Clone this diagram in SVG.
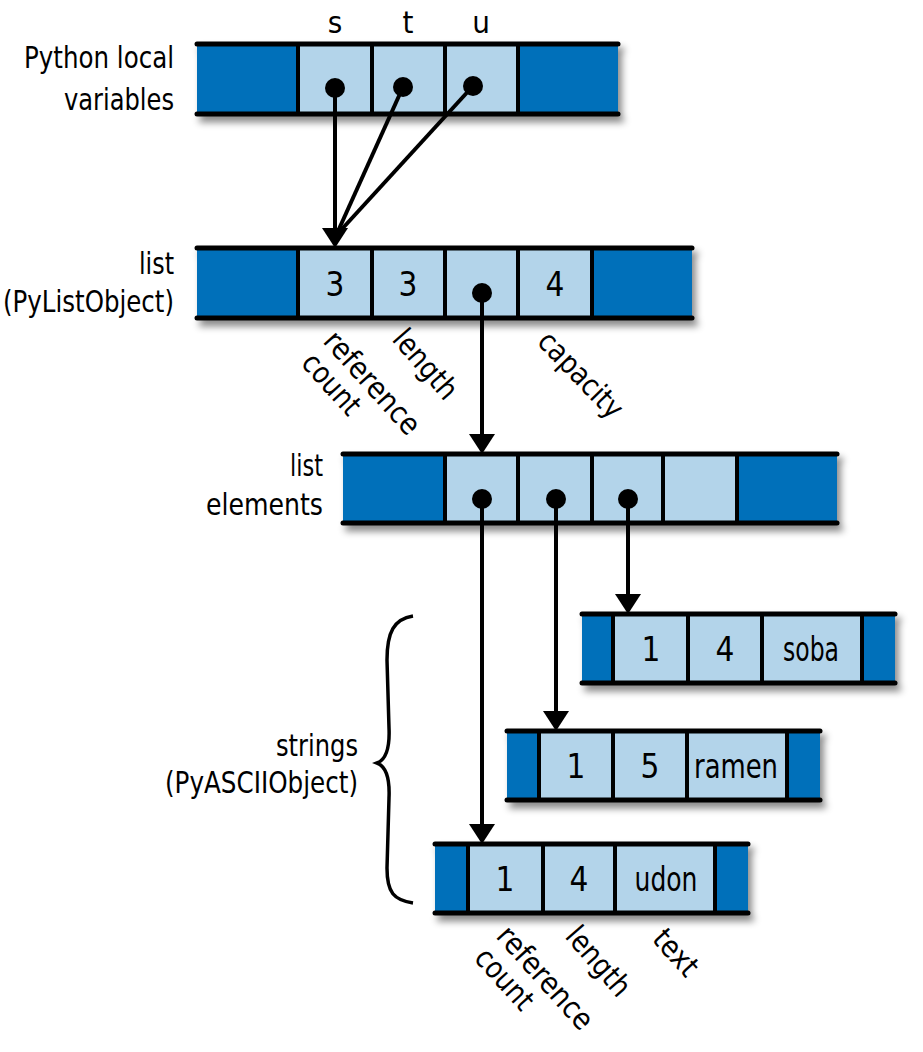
<svg xmlns="http://www.w3.org/2000/svg" width="923" height="1052" viewBox="0 0 923 1052">
<style>
text{font-family:"DejaVu Sans Condensed","Liberation Sans Narrow","Liberation Sans",sans-serif;fill:#000}
.lbl{font-size:31px}
.r{text-anchor:end}
.c{text-anchor:middle;font-size:33px}
.rot{font-size:30px}
.dk{fill:#0070BA}
.lt{fill:#B3D4EA}
.hl{stroke:#000;stroke-width:5;stroke-linecap:round}
.dv{stroke:#000;stroke-width:4}
.con{stroke:#000;stroke-width:4;fill:none}
.brace{stroke:#000;stroke-width:3.5;fill:none}
</style>
<defs>
<filter id="sh" x="-5%" y="-20%" width="115%" height="160%">
<feDropShadow dx="4" dy="6" stdDeviation="3.5" flood-color="#000" flood-opacity="0.45"/>
</filter>
<marker id="ah" viewBox="0 0 20 26" refX="14" refY="13" markerWidth="20" markerHeight="26" markerUnits="userSpaceOnUse" orient="auto">
<path d="M0,0 L20,13 L0,26 z" fill="#000"/>
</marker>
</defs>

<g id="labels">
<text class="lbl r" x="174" y="68" textLength="150" lengthAdjust="spacingAndGlyphs">Python local</text>
<text class="lbl r" x="174" y="110" textLength="110" lengthAdjust="spacingAndGlyphs">variables</text>
<text class="lbl r" x="174" y="274" textLength="35" lengthAdjust="spacingAndGlyphs">list</text>
<text class="lbl r" x="174" y="312" textLength="171" lengthAdjust="spacingAndGlyphs">(PyListObject)</text>
<text class="lbl r" x="323" y="476" textLength="33" lengthAdjust="spacingAndGlyphs">list</text>
<text class="lbl r" x="323" y="515" textLength="117" lengthAdjust="spacingAndGlyphs">elements</text>
<text class="lbl r" x="358" y="756" textLength="82" lengthAdjust="spacingAndGlyphs">strings</text>
<text class="lbl r" x="358" y="793" textLength="193" lengthAdjust="spacingAndGlyphs">(PyASCIIObject)</text>
</g>

<g id="vars">
<g filter="url(#sh)">
<rect class="dk" x="197" y="44" width="421" height="70"/>
<rect class="lt" x="298" y="44" width="220" height="70"/>
<line class="hl" x1="197" y1="44" x2="618" y2="44"/>
<line class="hl" x1="197" y1="114" x2="618" y2="114"/>
</g>
<line class="dv" x1="298" y1="44" x2="298" y2="114"/>
<line class="dv" x1="372" y1="44" x2="372" y2="114"/>
<line class="dv" x1="445" y1="44" x2="445" y2="114"/>
<line class="dv" x1="518" y1="44" x2="518" y2="114"/>
<text class="lbl" x="335" y="33" text-anchor="middle">s</text>
<text class="lbl" x="408" y="33" text-anchor="middle">t</text>
<text class="lbl" x="481" y="33" text-anchor="middle">u</text>
</g>

<g id="list">
<g filter="url(#sh)">
<rect class="dk" x="197" y="248" width="495" height="70"/>
<rect class="lt" x="298" y="248" width="294" height="70"/>
<line class="hl" x1="197" y1="248" x2="692" y2="248"/>
<line class="hl" x1="197" y1="318" x2="692" y2="318"/>
</g>
<line class="dv" x1="298" y1="248" x2="298" y2="318"/>
<line class="dv" x1="372" y1="248" x2="372" y2="318"/>
<line class="dv" x1="445" y1="248" x2="445" y2="318"/>
<line class="dv" x1="518" y1="248" x2="518" y2="318"/>
<line class="dv" x1="592" y1="248" x2="592" y2="318"/>
<text class="c" x="335" y="296">3</text>
<text class="c" x="408" y="296">3</text>
<text class="c" x="555" y="296">4</text>
<text class="rot" transform="translate(322,342) rotate(48)" textLength="128" lengthAdjust="spacingAndGlyphs">reference</text>
<text class="rot" transform="translate(300,364) rotate(48)" textLength="72" lengthAdjust="spacingAndGlyphs">count</text>
<text class="rot" transform="translate(391,340) rotate(49)" textLength="82" lengthAdjust="spacingAndGlyphs">length</text>
<text class="rot" transform="translate(536,343) rotate(46)" textLength="108" lengthAdjust="spacingAndGlyphs">capacity</text>
</g>

<g id="elements">
<g filter="url(#sh)">
<rect class="dk" x="343" y="454" width="494" height="69"/>
<rect class="lt" x="445" y="454" width="292" height="69"/>
<line class="hl" x1="343" y1="454" x2="837" y2="454"/>
<line class="hl" x1="343" y1="523" x2="837" y2="523"/>
</g>
<line class="dv" x1="445" y1="454" x2="445" y2="523"/>
<line class="dv" x1="518" y1="454" x2="518" y2="523"/>
<line class="dv" x1="592" y1="454" x2="592" y2="523"/>
<line class="dv" x1="663" y1="454" x2="663" y2="523"/>
<line class="dv" x1="737" y1="454" x2="737" y2="523"/>
</g>

<g id="soba">
<g filter="url(#sh)">
<rect class="dk" x="582" y="614" width="313" height="69"/>
<rect class="lt" x="613" y="614" width="249" height="69"/>
<line class="hl" x1="582" y1="614" x2="895" y2="614"/>
<line class="hl" x1="582" y1="683" x2="895" y2="683"/>
</g>
<line class="dv" x1="613" y1="614" x2="613" y2="683"/>
<line class="dv" x1="688" y1="614" x2="688" y2="683"/>
<line class="dv" x1="762" y1="614" x2="762" y2="683"/>
<line class="dv" x1="862" y1="614" x2="862" y2="683"/>
<text class="c" x="651" y="661">1</text>
<text class="c" x="725" y="661">4</text>
<text class="c" x="811" y="661" textLength="56" lengthAdjust="spacingAndGlyphs">soba</text>
</g>

<g id="ramen">
<g filter="url(#sh)">
<rect class="dk" x="507" y="731" width="313" height="69"/>
<rect class="lt" x="539" y="731" width="248" height="69"/>
<line class="hl" x1="507" y1="731" x2="820" y2="731"/>
<line class="hl" x1="507" y1="800" x2="820" y2="800"/>
</g>
<line class="dv" x1="539" y1="731" x2="539" y2="800"/>
<line class="dv" x1="613" y1="731" x2="613" y2="800"/>
<line class="dv" x1="687" y1="731" x2="687" y2="800"/>
<line class="dv" x1="787" y1="731" x2="787" y2="800"/>
<text class="c" x="576" y="778">1</text>
<text class="c" x="650" y="778">5</text>
<text class="c" x="736" y="778" textLength="84" lengthAdjust="spacingAndGlyphs">ramen</text>
</g>

<g id="udon">
<g filter="url(#sh)">
<rect class="dk" x="435" y="844" width="313" height="69"/>
<rect class="lt" x="468" y="844" width="247" height="69"/>
<line class="hl" x1="435" y1="844" x2="748" y2="844"/>
<line class="hl" x1="435" y1="913" x2="748" y2="913"/>
</g>
<line class="dv" x1="468" y1="844" x2="468" y2="913"/>
<line class="dv" x1="543" y1="844" x2="543" y2="913"/>
<line class="dv" x1="615" y1="844" x2="615" y2="913"/>
<line class="dv" x1="715" y1="844" x2="715" y2="913"/>
<text class="c" x="505" y="891">1</text>
<text class="c" x="579" y="891">4</text>
<text class="c" x="666" y="891" textLength="63" lengthAdjust="spacingAndGlyphs">udon</text>
<text class="rot" transform="translate(495,937) rotate(48)" textLength="128" lengthAdjust="spacingAndGlyphs">reference</text>
<text class="rot" transform="translate(473,959) rotate(48)" textLength="72" lengthAdjust="spacingAndGlyphs">count</text>
<text class="rot" transform="translate(564,937) rotate(49)" textLength="82" lengthAdjust="spacingAndGlyphs">length</text>
<text class="rot" transform="translate(651,940) rotate(48)" textLength="52" lengthAdjust="spacingAndGlyphs">text</text>
</g>

<g id="brace">
<path class="brace" d="M413,616 C394,619 387,632 387,660 L389,728 C390,750 385,760 377,763 C385,766 390,776 389,798 L387,868 C387,893 394,900 413,903"/>
</g>

<g id="connectors">
<line class="con" x1="335" y1="88" x2="335" y2="242" marker-end="url(#ah)"/>
<line class="con" x1="403" y1="87" x2="339" y2="229"/>
<line class="con" x1="473" y1="86" x2="342" y2="229"/>
<line class="con" x1="482" y1="293" x2="482" y2="448" marker-end="url(#ah)"/>
<line class="con" x1="482" y1="499" x2="482" y2="838" marker-end="url(#ah)"/>
<line class="con" x1="556" y1="499" x2="556" y2="725" marker-end="url(#ah)"/>
<line class="con" x1="628" y1="499" x2="628" y2="608" marker-end="url(#ah)"/>
<circle cx="335" cy="88" r="10"/>
<circle cx="403" cy="87" r="10"/>
<circle cx="473" cy="86" r="10"/>
<circle cx="482" cy="293" r="10"/>
<circle cx="482" cy="499" r="10"/>
<circle cx="556" cy="499" r="10"/>
<circle cx="628" cy="499" r="10"/>
</g>
</svg>
